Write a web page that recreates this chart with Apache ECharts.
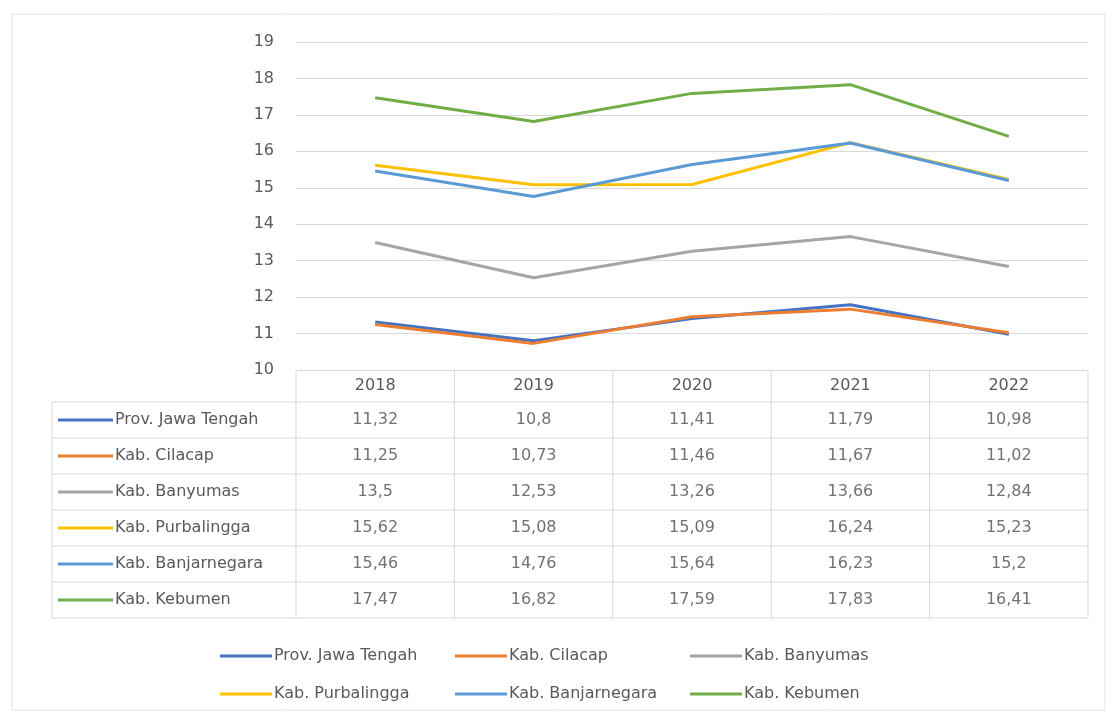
<!DOCTYPE html>
<html>
<head>
<meta charset="utf-8">
<script src="https://cdn.jsdelivr.net/npm/echarts@6/dist/echarts.min.js"></script>
<style>
html, body { margin: 0; padding: 0; background: #fff; }
#chart { width: 1113px; height: 715px; }
</style>
</head>
<body>
<div id="chart"></div>
<script>
var years = ['2018', '2019', '2020', '2021', '2022'];
var names = ['Prov. Jawa Tengah', 'Kab. Cilacap', 'Kab. Banyumas', 'Kab. Purbalingga', 'Kab. Banjarnegara', 'Kab. Kebumen'];
var jawaTengah = [11.32, 10.8, 11.41, 11.79, 10.98];
var cilacap = [11.25, 10.73, 11.46, 11.67, 11.02];
var banyumas = [13.5, 12.53, 13.26, 13.66, 12.84];
var purbalingga = [15.62, 15.08, 15.09, 16.24, 15.23];
var banjarnegara = [15.46, 14.76, 15.64, 16.23, 15.2];
var kebumen = [17.47, 16.82, 17.59, 17.83, 16.41];
var yTicks = [10, 11, 12, 13, 14, 15, 16, 17, 18, 19];

var values = [jawaTengah, cilacap, banyumas, purbalingga, banjarnegara, kebumen];
var colors = ['#4472C4', '#ED7D31', '#A5A5A5', '#FFC000', '#5B9BD5', '#70AD47'];

var font = 'DejaVu Sans';
var txt = '#595959';
var rule = '#d9d9d9';

// layout of plot + table
var L = 296, R = 1088, TOP = 42, AXIS = 370, ROW0 = 402, ROWH = 36, TBL_L = 52;

function fmt(v) { return String(v).replace('.', ','); }

var rich = { t: { fontFamily: font, fontSize: 16, color: txt, padding: [0, 0, 0, 2] } };
colors.forEach(function (c, i) {
	rich['k' + i] = { width: 55, height: 3, backgroundColor: c };
});

var series = [];
names.forEach(function (n, i) {
	series.push({
		name: n,
		type: 'line',
		xAxisIndex: 0,
		yAxisIndex: 0,
		data: values[i],
		symbol: 'none',
		lineStyle: { color: colors[i], width: 3 },
		itemStyle: { color: colors[i] }
	});
});
// table cells
names.forEach(function (n, i) {
	series.push({
		name: 'cell' + i,
		type: 'scatter',
		xAxisIndex: 1,
		yAxisIndex: 1,
		silent: true,
		symbolSize: 1,
		itemStyle: { color: 'rgba(0,0,0,0)' },
		data: values[i].map(function (v, j) { return [j, i, v]; }),
		label: {
			show: true,
			position: 'inside',
			fontFamily: font,
			fontSize: 16,
			color: '#4d4d4d',
			formatter: function (p) { return fmt(p.value[2]); }
		}
	});
});

var colW = (R - L) / years.length;
var tblBottom = ROW0 + ROWH * names.length;
var lines = [];
for (var r = 0; r <= names.length; r++) {
	lines.push({ type: 'line', shape: { x1: TBL_L, y1: ROW0 + r * ROWH, x2: R, y2: ROW0 + r * ROWH }, style: { stroke: rule, lineWidth: 1 } });
}
for (var c = 0; c <= years.length; c++) {
	var x = L + c * colW;
	lines.push({ type: 'line', shape: { x1: x, y1: AXIS, x2: x, y2: tblBottom }, style: { stroke: rule, lineWidth: 1 } });
}
lines.push({ type: 'line', shape: { x1: TBL_L, y1: ROW0, x2: TBL_L, y2: tblBottom }, style: { stroke: rule, lineWidth: 1 } });
lines.push({ type: 'rect', shape: { x: 12, y: 14, width: 1093, height: 696 }, style: { fill: 'none', stroke: '#e3e3e3', lineWidth: 1 } });

// one legend per entry, laid out as 3 columns x 2 rows
var legendLeft = [215, 450, 685];
var legendTop = [643, 681];
var legends = names.map(function (n, i) {
	return {
		data: [n],
		left: legendLeft[i % 3],
		top: legendTop[Math.floor(i / 3)],
		icon: 'rect',
		itemWidth: 52,
		itemHeight: 3,
		textStyle: { fontFamily: font, fontSize: 16, color: txt, padding: [0, 0, 0, -3] }
	};
});

var chart = echarts.init(document.getElementById('chart'));
var option = {
	backgroundColor: '#fff',
	animation: false,
	grid: [
		{ left: L, right: 1113 - R, top: TOP, height: AXIS - TOP },
		{ left: L, right: 1113 - R, top: ROW0, height: ROWH * names.length }
	],
	xAxis: [{
		gridIndex: 0,
		type: 'category',
		data: years,
		boundaryGap: true,
		axisLine: { show: false },
		axisTick: { show: false },
		axisLabel: { margin: 8, fontFamily: font, fontSize: 16, color: txt }
	}, {
		gridIndex: 1,
		type: 'category',
		data: years,
		show: false
	}],
	yAxis: [{
		gridIndex: 0,
		type: 'value',
		min: yTicks[0],
		max: yTicks[yTicks.length - 1],
		interval: 1,
		axisLine: { show: false },
		axisTick: { show: false },
		axisLabel: { margin: 22, fontFamily: font, fontSize: 16, color: txt },
		splitLine: { lineStyle: { color: rule, width: 1 } }
	}, {
		gridIndex: 1,
		type: 'category',
		data: names,
		inverse: true,
		axisLine: { show: false },
		axisTick: { show: false },
		splitLine: { show: false },
		axisLabel: {
			align: 'left',
			margin: L - TBL_L - 6,
			rich: rich,
			formatter: function (v, idx) { return '{k' + idx + '|}{t|' + v + '}'; }
		}
	}],
	legend: legends,
	graphic: lines,
	series: series
};
chart.setOption(option);
</script>
</body>
</html>
